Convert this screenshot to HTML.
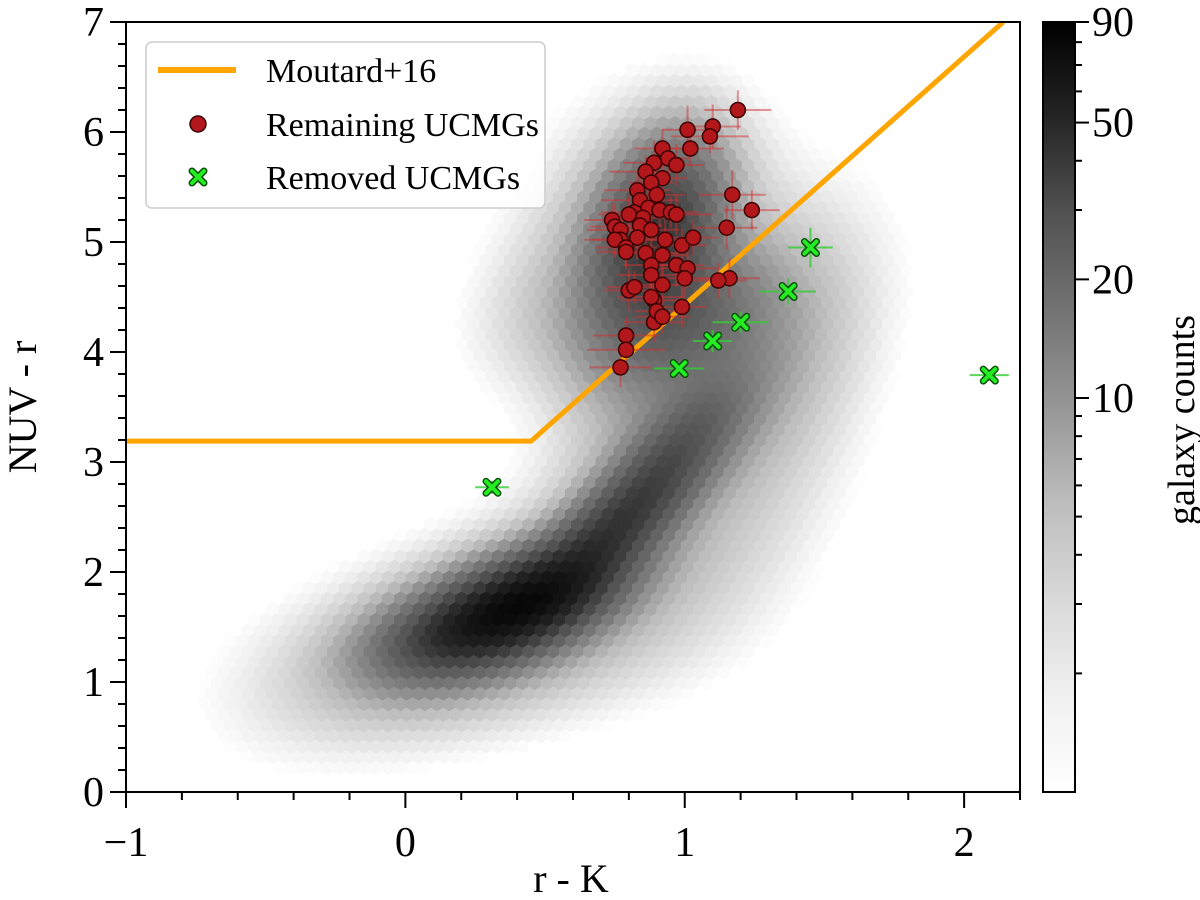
<!DOCTYPE html>
<html><head><meta charset="utf-8">
<style>
html,body{margin:0;padding:0;background:#fff;}
svg{display:block;font-family:"Liberation Serif",serif;}
</style></head>
<body>
<svg id="chart" width="1200" height="900" viewBox="0 0 1200 900">
<defs>
<linearGradient id="cbgrad" x1="0" y1="1" x2="0" y2="0">
<stop offset="0" stop-color="#ffffff"/><stop offset="0.125" stop-color="#f0f0f0"/><stop offset="0.25" stop-color="#d9d9d9"/><stop offset="0.375" stop-color="#bdbdbd"/><stop offset="0.5" stop-color="#969696"/><stop offset="0.625" stop-color="#737373"/><stop offset="0.75" stop-color="#525252"/><stop offset="0.875" stop-color="#252525"/><stop offset="1" stop-color="#000000"/>
</linearGradient>
<clipPath id="plotclip"><rect x="126" y="22" width="894" height="770"/></clipPath>
</defs>
<g id="hexes" clip-path="url(#plotclip)"></g>
<g id="moutard" clip-path="url(#plotclip)"></g>
<g id="errs"></g>
<g id="pts"></g>
<rect x="126" y="22" width="894" height="770" fill="none" stroke="#000" stroke-width="2"/>
<g id="axes"></g>
<text x="571" y="892" font-size="40" text-anchor="middle">r - K</text>
<text transform="translate(36,407) rotate(-90)" font-size="40" text-anchor="middle">NUV - r</text>
<rect x="1043" y="22" width="32" height="770" fill="url(#cbgrad)" stroke="#000" stroke-width="2"/>
<g id="cbticks"></g>
<text transform="translate(1194,420) rotate(-90)" font-size="38" text-anchor="middle">galaxy counts</text>
<g>
<rect x="146" y="42" width="399" height="166" rx="6" fill="#fff" fill-opacity="0.85" stroke="#ccc" stroke-width="1.5"/>
<line x1="158" y1="70" x2="236" y2="70" stroke="#ffa500" stroke-width="6"/>
<text x="266" y="82" font-size="34">Moutard+16</text>
<circle cx="198" cy="124" r="8" fill="#b2181b" stroke="#3a0000" stroke-width="1.5"/>
<text x="266" y="136" font-size="34">Remaining UCMGs</text>
<path d="M192,171 L204,183 M204,171 L192,183" stroke="#0b4d0b" stroke-width="7" stroke-linecap="round"/>
<path d="M192,171 L204,183 M204,171 L192,183" stroke="#22ee22" stroke-width="4" stroke-linecap="round"/>
<text x="266" y="189" font-size="34">Removed UCMGs</text>
</g>
</svg>
<script>
// density components: [x, y, sx, sy, rho, peakCount]
const blobX   = [0.45, 0.20, 0.75, 0.97, 0.90, 0.97, 0.35, 1.05, 0.85, 1.30, 0.30, 0.60];
const blobY   = [1.75, 1.45, 2.40, 3.10, 5.10, 4.30, 1.60, 3.70, 5.20, 3.50, 1.30, 4.40];
const blobSX  = [0.20, 0.20, 0.17, 0.16, 0.14, 0.20, 0.50, 0.30, 0.30, 0.30, 0.55, 0.25];
const blobSY  = [0.30, 0.28, 0.38, 0.40, 0.50, 0.40, 0.70, 0.80, 0.80, 1.20, 0.55, 0.50];
const blobRho = [0.50, 0.40, 0.70, 0.70, 0.30, 0.30, 0.60, 0.50, 0.20, 0.50, 0.30, 0.30];
const blobAmp = [55, 30, 30, 18, 35, 14, 6, 8, 5, 3, 3, 3];

const redX = [1.19,1.10,1.09,1.01,1.02,0.92,0.94,0.89,0.86,0.92,0.97,0.83,0.88,0.84,0.90,0.87,0.82,0.85,0.91,0.95,0.97,0.74,0.75,0.77,0.80,0.84,0.88,0.93,0.99,0.77,0.83,0.75,0.79,0.86,0.92,0.88,1.17,1.15,1.24,1.03,0.88,0.97,0.92,1.01,1.00,0.89,0.80,0.82,0.89,0.90,0.88,0.92,0.99,1.16,1.12,0.79,0.79,0.77,0.79];
const redY = [6.20,6.05,5.96,6.02,5.85,5.85,5.76,5.72,5.64,5.58,5.70,5.47,5.54,5.38,5.43,5.31,5.27,5.22,5.29,5.27,5.25,5.20,5.14,5.11,5.25,5.15,5.11,5.02,4.97,5.02,5.04,5.02,4.95,4.90,4.88,4.79,5.43,5.13,5.29,5.04,4.70,4.79,4.61,4.76,4.67,4.47,4.56,4.59,4.27,4.37,4.50,4.32,4.41,4.67,4.65,4.15,4.02,3.86,4.91];
const redXErr = [0.12,0.10,0.14,0.09,0.12,0.10,0.08,0.11,0.13,0.09,0.10,0.12,0.08,0.14,0.10,0.09,0.12,0.11,0.08,0.10,0.13,0.10,0.09,0.12,0.11,0.08,0.10,0.12,0.09,0.13,0.10,0.08,0.11,0.12,0.09,0.10,0.12,0.11,0.10,0.09,0.12,0.10,0.08,0.11,0.10,0.12,0.09,0.10,0.11,0.08,0.12,0.10,0.09,0.11,0.10,0.12,0.14,0.11,0.10];
const redYErr = [0.18,0.20,0.15,0.22,0.16,0.18,0.14,0.20,0.15,0.17,0.19,0.16,0.14,0.20,0.18,0.15,0.17,0.19,0.16,0.14,0.18,0.16,0.20,0.15,0.17,0.19,0.16,0.18,0.15,0.17,0.20,0.16,0.18,0.15,0.17,0.19,0.22,0.20,0.18,0.16,0.17,0.19,0.15,0.18,0.16,0.17,0.19,0.15,0.18,0.16,0.17,0.15,0.19,0.18,0.16,0.17,0.15,0.18,0.16];
const grnX = [0.31,0.98,1.10,1.20,1.37,1.45,2.09];
const grnY = [2.77,3.85,4.10,4.27,4.55,4.95,3.79];
const grnXErr = [0.06,0.09,0.07,0.10,0.10,0.08,0.07];
const grnYErr = [0.06,0.06,0.10,0.10,0.12,0.18,0.05];
const lineX = [-1.0, 0.45, 2.14];
const lineY = [3.19, 3.19, 7.0];
const xTicks = [-1, 0, 1, 2];
const xTickLabels = ["\u22121", "0", "1", "2"];
const yTicks = [0,1,2,3,4,5,6,7];
const cbTicks = [10, 20, 50, 90];
const cbMin = 1, cbMax = 90;

const NS = "http://www.w3.org/2000/svg";
const X0=126, X1=1020, Y0=792, Y1=22, XMIN=-1, XMAX=2.2, YMIN=0, YMAX=7;
function sx(v){return X0+(v-XMIN)/(XMAX-XMIN)*(X1-X0);}
function sy(v){return Y0-(v-YMIN)/(YMAX-YMIN)*(Y0-Y1);}
function el(tag, attrs, parent){const e=document.createElementNS(NS,tag);for(const k in attrs)e.setAttribute(k,attrs[k]);parent.appendChild(e);return e;}
function density(x,y){
  let s=0;
  for(let i=0;i<blobX.length;i++){
    const dx=(x-blobX[i])/blobSX[i], dy=(y-blobY[i])/blobSY[i], r=blobRho[i];
    s+=blobAmp[i]*Math.exp(-(dx*dx-2*r*dx*dy+dy*dy)/(2*(1-r*r)));
  }
  return s;
}
const stops=[255,240,217,189,150,115,82,37,0];
function grey(t){t=Math.max(0,Math.min(1,t));const f=t*8,i=Math.min(7,Math.floor(f)),u=f-i;const g=Math.round(stops[i]+(stops[i+1]-stops[i])*u);return "rgb("+g+","+g+","+g+")";}

// hexbin
const hg=document.getElementById("hexes");
const w=12.2, R=w/Math.sqrt(3), dyRow=1.5*R;
let row=0;
for(let py=Y0+R; py>Y1-R; py-=dyRow, row++){
  const off=(row%2)?w/2:0;
  for(let px=X0+off; px<X1+w; px+=w){
    const dx=XMIN+(px-X0)/(X1-X0)*(XMAX-XMIN), dy=YMIN+(Y0-py)/(Y0-Y1)*(YMAX-YMIN);
    const c=density(dx,dy);
    if(c<1) continue;
    const t=Math.log(c/cbMin)/Math.log(cbMax/cbMin);
    let d="";
    for(let k=0;k<6;k++){const a=Math.PI/6+k*Math.PI/3;d+=(k?"L":"M")+(px+R*Math.cos(a)).toFixed(1)+","+(py+R*Math.sin(a)).toFixed(1);}
    const h=el("path",{d:d+"Z",fill:grey(t),stroke:grey(t),"stroke-width":0.5},hg);
    
    
  }
}

// Moutard line
const mg=document.getElementById("moutard");
const ml=el("polyline",{points:lineX.map((v,i)=>sx(v)+","+sy(lineY[i])).join(" "),fill:"none",stroke:"#ffa500","stroke-width":5},mg);



// error bars and points
const eg=document.getElementById("errs"), pg=document.getElementById("pts");
for(let i=0;i<redX.length;i++){
  const x=sx(redX[i]), y=sy(redY[i]);
  const e=el("path",{d:"M"+sx(redX[i]-redXErr[i])+","+y+"H"+sx(redX[i]+redXErr[i])+"M"+x+","+sy(redY[i]-redYErr[i])+"V"+sy(redY[i]+redYErr[i]),stroke:"#d03030","stroke-opacity":0.5,"stroke-width":2},eg);
  
  
}
for(let i=0;i<grnX.length;i++){
  const x=sx(grnX[i]), y=sy(grnY[i]);
  const e=el("path",{d:"M"+sx(grnX[i]-grnXErr[i])+","+y+"H"+sx(grnX[i]+grnXErr[i])+"M"+x+","+sy(grnY[i]-grnYErr[i])+"V"+sy(grnY[i]+grnYErr[i]),stroke:"#33cc33","stroke-opacity":0.8,"stroke-width":2},eg);
  
  
}
for(let i=0;i<redX.length;i++){
  const c=el("circle",{cx:sx(redX[i]),cy:sy(redY[i]),r:7.5,fill:"#b2181b",stroke:"#3a0000","stroke-width":1.5},pg);
  
  
}
for(let i=0;i<grnX.length;i++){
  const x=sx(grnX[i]), y=sy(grnY[i]), s=6;
  const d="M"+(x-s)+","+(y-s)+"L"+(x+s)+","+(y+s)+"M"+(x+s)+","+(y-s)+"L"+(x-s)+","+(y+s);
  const o=el("path",{d:d,stroke:"#0b4d0b","stroke-width":7,"stroke-linecap":"round"},pg);
  
  
  const p=el("path",{d:d,stroke:"#22ee22","stroke-width":4,"stroke-linecap":"round"},pg);
  
  
}

// axes ticks
const ag=document.getElementById("axes");
for(let v=-1; v<=2.2001; v+=0.2){
  const major=Math.abs(v-Math.round(v))<1e-6, x=sx(v);
  const t=el("line",{x1:x,y1:Y0,x2:x,y2:Y0+(major?16:8),stroke:"#000","stroke-width":2},ag);
  
  
}
xTicks.forEach((v,i)=>{
  const t=el("text",{x:sx(v),y:856,"font-size":42,"text-anchor":"middle"},ag);
  t.textContent=xTickLabels[i];
  
  
});
for(let v=0; v<=7.0001; v+=0.2){
  const major=Math.abs(v-Math.round(v))<1e-6, y=sy(v);
  const t=el("line",{x1:X0,y1:y,x2:X0-(major?16:8),y2:y,stroke:"#000","stroke-width":2},ag);
  
  
}
yTicks.forEach(v=>{
  const t=el("text",{x:104,y:sy(v)+14,"font-size":42,"text-anchor":"end"},ag);
  t.textContent=String(v);
  
  
});
// colorbar ticks
const cg=document.getElementById("cbticks");
function cby(v){return Y0-Math.log(v/cbMin)/Math.log(cbMax/cbMin)*(Y0-Y1);}
for(let v=2; v<=90; v+=(v<10?1:10)){
  const major=cbTicks.includes(v), y=cby(v);
  const t=el("line",{x1:1075,y1:y,x2:1075+(major?14:7),y2:y,stroke:"#000","stroke-width":2},cg);
  
  
}
cbTicks.forEach(v=>{
  const t=el("text",{x:1092,y:cby(v)+14,"font-size":42},cg);
  t.textContent=String(v);
  
  
});
</script>
</body></html>
